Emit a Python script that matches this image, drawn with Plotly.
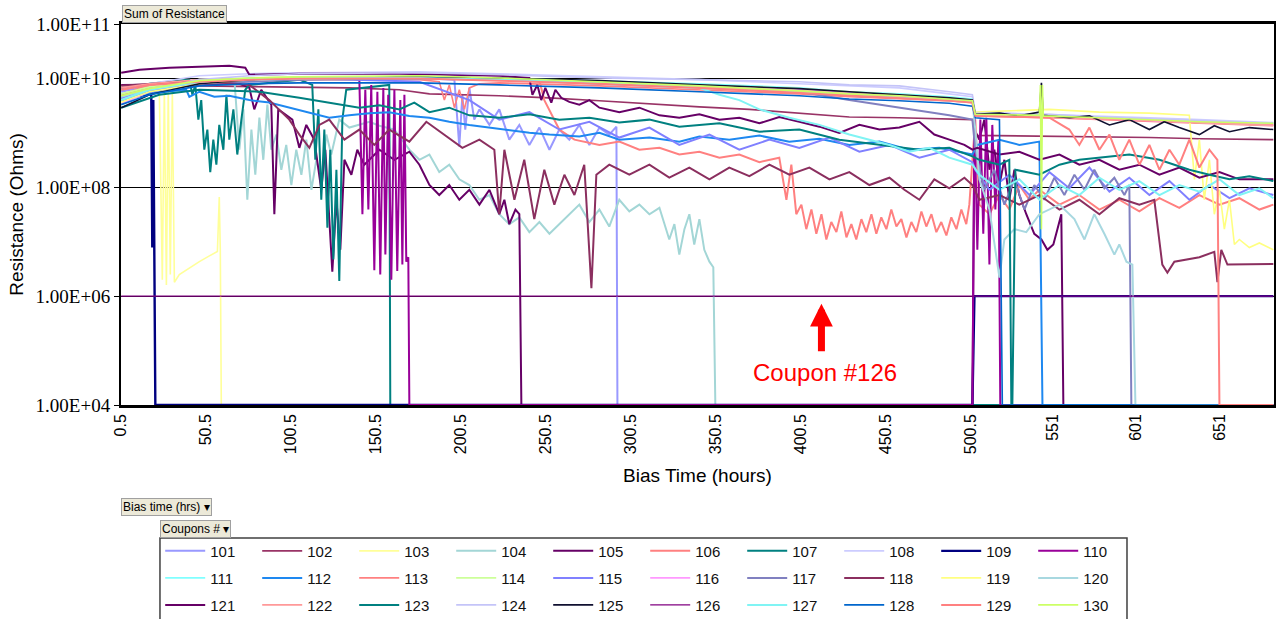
import plotly.graph_objects as go

# ---------------------------------------------------------------- data
COUPONS = [101, 102, 103, 104, 105, 106, 107, 108, 109, 110,
           111, 112, 113, 114, 115, 116, 117, 118, 119, 120,
           121, 122, 123, 124, 125, 126, 127, 128, 129, 130]

X_TICK_POS = [0.5, 50.5, 100.5, 150.5, 200.5, 250.5, 300.5, 350.5, 400.5, 450.5, 500.5, 548.2, 597.6, 646.5]
X_TICK_TEXT = ['0.5', '50.5', '100.5', '150.5', '200.5', '250.5', '300.5', '350.5', '400.5', '450.5',
               '500.5', '551', '601', '651']
Y_TICK_VALS = [1e4, 1e6, 1e8, 1e10, 1e11]
Y_TICK_TEXT = ['1.00E+04', '1.00E+06', '1.00E+08', '1.00E+10', '1.00E+11']

# bias-time positions shared by the coupons that stay in the top band
CLUSTER_X = [0.5, 17.1, 46.5, 75.9, 105.3, 175.9, 222.9, 281.8, 340.6, 399.4, 428.8, 458.2, 487.6,
             501.2, 502.9, 546.5, 575.9, 605.3, 634.7, 678.2]

X_101 = [0.5, 17.1, 46.5, 105.3, 175.9, 196.5, 199.4, 201.2, 202.9, 205.3, 208.2, 211.2, 217.1, 222.9,
         228.8, 234.7, 240.6, 246.5, 252.4, 258.2, 264.1, 270.0, 275.9, 281.8, 287.6, 291.8, 292.4, 678.2]
R_101 = [5.7e9, 7.3e9, 9.5e9, 1.02e10, 1.02e10, 9.5e9, 5.6e8, 5.0e9, 1.15e9, 6.7e9, 1.75e9, 2.7e9, 1.4e9,
         2.7e9, 7.5e8, 1.4e9, 6.0e8, 1.25e9, 4.9e8, 1.15e9, 7.5e8, 1.4e9, 6.0e8, 1.25e9, 9.3e8, 1.3e9, 1e4, 1e4]

X_102 = [0.5, 17.1, 46.5, 105.3, 134.7, 164.1, 181.8, 222.9, 252.4, 281.8, 311.2, 340.6, 370.0, 399.4,
         428.8, 458.2, 487.6, 501.2, 502.9, 546.5, 575.9, 605.3, 634.7, 678.2]
R_102 = [6.7e9, 7.3e9, 7.3e9, 7.0e9, 6.7e9, 6.2e9, 5.2e9, 4.8e9, 4.4e9, 3.9e9, 3.4e9, 3.0e9, 2.7e9, 2.3e9,
         1.95e9, 1.9e9, 1.8e9, 1.75e9, 9.0e8, 8.6e8, 8.6e8, 8.2e8, 7.8e8, 7.5e8]

X_103 = [0.5, 11.2, 22.9, 24.7, 25.9, 27.1, 28.2, 29.4, 30.6, 31.8, 34.7, 40.6, 46.5, 52.4, 57.1, 58.2,
         58.8, 59.4, 678.2]
R_103 = [3.4e9, 5.7e9, 7.3e9, 2.0e6, 6.7e9, 1.6e6, 6.2e9, 2.5e6, 5.7e9, 1.8e6, 2.5e6, 3.3e6, 4.3e6, 5.5e6,
         6.6e6, 6.6e7, 7.1e6, 1e4, 1e4]

X_104 = [0.5, 17.1, 46.5, 67.1, 70.0, 72.4, 74.7, 77.1, 79.4, 81.8, 84.1, 86.5, 88.8, 91.8, 94.7, 97.6,
         100.6, 103.5, 106.5, 109.4, 112.4, 115.3, 118.2, 121.2, 124.1, 128.8, 134.7, 140.6, 146.5, 152.4,
         161.2, 170.0, 175.9, 181.8, 187.6, 193.5, 199.4, 205.3, 211.2, 217.1, 222.9, 228.8, 234.7, 240.6,
         246.5, 252.4, 258.2, 264.1, 270.0, 275.9, 281.8, 287.6, 293.5, 299.4, 305.3, 311.2, 317.1, 322.9,
         325.9, 328.8, 331.8, 334.7, 337.6, 340.6, 343.5, 346.5, 348.8, 350.0, 678.2]
R_104 = [5.2e9, 6.7e9, 8.7e9, 9.5e9, 4.9e8, 2.7e9, 5.9e7, 1.15e9, 1.7e8, 1.9e9, 3.2e8, 3.3e9, 4.9e8, 9.3e8,
         2.1e8, 6.0e8, 1.1e8, 4.9e8, 1.7e8, 7.5e8, 9.0e7, 3.2e8, 1.4e8, 9.3e8, 4.0e8, 1.75e9, 1.25e9, 1.4e9,
         1.6e9, 1.35e9, 1.15e9, 4.9e8, 3.2e8, 4.0e8, 1.9e8, 2.6e8, 1.4e8, 1.1e8, 5.9e7, 7.2e7, 3.2e7, 2.1e7,
         2.8e7, 1.5e7, 2.3e7, 1.4e7, 2.1e7, 3.2e7, 4.8e7, 2.3e7, 3.9e7, 1.9e7, 5.9e7, 3.6e7, 4.8e7, 3.2e7,
         4.2e7, 1.1e7, 2.1e7, 5.8e6, 1.7e7, 3.2e7, 8.9e6, 2.6e7, 7.1e6, 4.3e6, 3.4e6, 1e4, 1e4]

X_105 = [0.5, 70.0, 75.9, 78.8, 82.9, 88.8, 90.6, 92.9, 101.2, 105.3, 109.4, 114.1, 118.2, 120.6, 124.7,
         127.1, 129.4, 131.8, 135.9, 139.4, 143.5, 152.4, 161.2, 170.0, 175.9, 181.8, 187.6, 193.5, 199.4,
         205.3, 211.2, 217.1, 222.9, 225.9, 228.8, 232.4, 234.7, 235.9, 501.2, 502.4, 505.3, 508.2, 511.2,
         514.1, 517.1, 520.0, 522.9, 525.9, 528.8, 532.9, 537.6, 541.8, 545.3, 548.8, 551.2, 553.5, 554.7, 678.2]
R_105 = [7.6e9, 8.0e9, 6.7e9, 2.7e9, 6.2e9, 3.3e9, 3.2e7, 2.7e9, 1.75e9, 5.3e8, 1.4e9, 7.5e8, 9.0e7, 4.9e8,
         2.8e6, 5.9e7, 7.1e6, 3.2e8, 1.7e8, 4.9e8, 2.6e8, 4.9e8, 3.2e8, 4.5e8, 2.6e8, 1.1e8, 7.2e7, 1.1e8,
         5.9e7, 9.0e7, 4.8e7, 9.0e7, 3.2e7, 5.9e7, 2.1e7, 3.9e7, 3.2e7, 1e4, 1e4, 1.15e9, 7.5e8, 1.75e9, 2.1e8,
         4.9e8, 1.1e8, 3.2e8, 5.9e7, 2.1e8, 7.2e7, 3.2e7, 1.4e7, 1.1e7, 7.1e6, 8.9e6, 1.7e7, 3.2e7, 1e4, 1e4]

X_106 = [0.5, 17.1, 46.5, 105.3, 175.9, 222.9, 246.5, 249.4, 255.3, 258.2, 267.1, 281.8, 293.5, 305.3,
         317.1, 328.8, 340.6, 352.4, 364.1, 375.9, 387.6, 391.8, 394.7, 397.6, 400.6, 403.5, 406.5, 409.4,
         412.4, 415.3, 418.2, 421.2, 424.1, 427.1, 430.0, 432.9, 435.9, 438.8, 441.8, 444.7, 447.6, 450.6,
         453.5, 456.5, 459.4, 462.4, 465.3, 468.2, 471.2, 474.1, 477.1, 480.0, 482.9, 485.9, 488.8, 491.8,
         494.7, 497.6, 499.4, 501.2, 502.9, 505.3, 511.2, 517.1, 522.9, 528.8, 534.7, 540.6, 552.4, 564.1,
         575.9, 587.6, 599.4, 611.2, 622.9, 634.7, 646.5, 658.2, 670.0, 678.2]
R_106 = [4.8e9, 6.7e9, 8.7e9, 1.0e10, 1.0e10, 9.5e9, 9.1e9, 4.0e9, 1.75e9, 1.15e9, 7.5e8, 6.0e8, 6.9e8,
         4.9e8, 5.3e8, 4.0e8, 4.5e8, 3.5e8, 4.0e8, 2.9e8, 3.5e8, 5.9e7, 2.6e8, 3.2e7, 4.8e7, 1.7e7, 3.9e7,
         1.4e7, 3.2e7, 1.1e7, 2.3e7, 1.5e7, 3.6e7, 1.2e7, 2.1e7, 1.1e7, 2.6e7, 1.5e7, 3.2e7, 1.4e7, 2.8e7,
         1.7e7, 3.9e7, 1.9e7, 2.6e7, 1.2e7, 2.3e7, 1.5e7, 3.6e7, 1.9e7, 3.2e7, 1.5e7, 2.3e7, 1.3e7, 2.8e7,
         1.7e7, 3.9e7, 2.1e7, 4.8e7, 3.2e8, 1.75e9, 4.8e7, 3.2e7, 7.2e7, 3.9e7, 1.1e8, 5.9e7, 9.0e7, 4.8e7,
         7.2e7, 3.9e7, 5.9e7, 3.6e7, 6.3e7, 4.2e7, 7.2e7, 4.8e7, 6.3e7, 3.9e7, 4.8e7]

X_107 = [0.5, 17.1, 40.6, 42.4, 44.1, 45.9, 47.6, 49.4, 51.2, 52.9, 54.7, 56.5, 58.2, 60.6, 62.4, 64.1,
         66.5, 68.8, 71.2, 73.5, 75.9, 105.3, 112.9, 114.7, 116.5, 118.2, 120.0, 121.8, 123.5, 125.3, 127.1,
         128.8, 130.6, 132.9, 158.2, 158.8, 678.2]
R_107 = [6.2e9, 8.0e9, 9.5e9, 5.0e9, 7.6e9, 1.75e9, 4.0e9, 4.9e8, 1.15e9, 1.9e8, 7.5e8, 2.6e8, 1.4e9,
         4.9e8, 5.0e9, 7.5e8, 2.7e9, 4.0e8, 1.75e9, 6.2e9, 7.6e9, 9.5e9, 7.6e9, 3.2e8, 2.7e9, 5.9e7, 1.15e9,
         1.8e7, 4.9e8, 4.7e6, 2.1e8, 1.9e6, 1.75e9, 6.2e9, 7.6e9, 1e4, 1e4]

R_108 = [6.2e9, 8.0e9, 1.12e10, 1.22e10, 1.27e10, 1.32e10, 1.22e10, 1.07e10, 9.5e9, 8.0e9, 7.3e9, 6.7e9,
         5.2e9, 4.6e9, 2.4e9, 2.2e9, 2.05e9, 1.9e9, 1.75e9, 1.55e9]

X_109 = [0.5, 11.2, 18.2, 18.8, 19.4, 20.0, 20.6, 501.2, 502.4, 678.2]
R_109 = [4.0e9, 4.8e9, 5.2e9, 7.8e6, 4.0e9, 8.9e6, 1e4, 1e4, 1e6, 1e6]

X_110 = [0.5, 17.1, 46.5, 75.9, 105.3, 134.7, 140.6, 142.4, 144.1, 145.9, 147.6, 149.4, 151.2, 152.9,
         154.7, 155.9, 157.6, 159.4, 161.2, 162.9, 164.7, 165.9, 167.1, 168.2, 169.4, 170.0, 501.2, 502.4,
         504.1, 505.9, 507.6, 509.4, 511.2, 512.9, 514.7, 516.5, 517.6, 678.2]
R_110 = [4.4e9, 6.2e9, 8.7e9, 9.5e9, 1.0e10, 1.0e10, 9.5e9, 3.2e7, 6.2e9, 3.9e7, 7.6e9, 3.0e6, 5.7e9,
         2.5e6, 6.7e9, 5.8e6, 5.0e9, 2.0e6, 6.2e9, 2.9e6, 4.0e9, 3.8e6, 5.0e9, 4.3e6, 5.2e6, 1e4, 1e4, 2.4e9,
         7.1e6, 1.75e9, 1.4e7, 1.9e9, 3.8e6, 1.4e9, 3.9e7, 7.5e8, 1e4, 1e4]

R_111 = [4.4e9, 6.2e9, 8.7e9, 1.0e10, 1.02e10, 1.07e10, 1.02e10, 9.1e9, 8.0e9, 6.7e9, 5.7e9, 5.2e9, 4.6e9,
         4.2e9, 2.3e9, 2.1e9, 1.9e9, 1.75e9, 1.6e9, 1.5e9]

X_112 = [0.5, 17.1, 38.8, 40.6, 46.5, 55.3, 64.1, 75.9, 87.6, 99.4, 111.2, 122.9, 134.7, 146.5, 158.2,
         170.0, 181.8, 193.5, 205.3, 217.1, 228.8, 240.6, 252.4, 270.0, 281.8, 293.5, 311.2, 328.8, 340.6,
         358.2, 375.9, 393.5, 411.2, 428.8, 446.5, 464.1, 481.8, 501.2, 504.1, 517.1, 528.8, 540.6, 542.4, 678.2]
R_112 = [4.0e9, 5.4e9, 6.2e9, 4.6e9, 5.7e9, 4.6e9, 4.8e9, 4.0e9, 3.6e9, 2.9e9, 2.4e9, 1.9e9, 2.1e9, 2.3e9,
         2.4e9, 2.05e9, 1.9e9, 1.6e9, 1.4e9, 1.25e9, 1.15e9, 1.0e9, 9.3e8, 8.6e8, 1.0e9, 7.5e8, 8.2e8, 6.9e8,
         8.6e8, 7.5e8, 8.9e8, 6.9e8, 7.8e8, 6.0e8, 6.9e8, 4.9e8, 5.3e8, 4.0e8, 6.0e8, 7.5e8, 6.0e8, 6.9e8,
         1e4, 1e4]

X_113 = [0.5, 11.2, 22.9, 46.5, 75.9, 105.3, 175.9, 187.6, 190.6, 193.5, 196.5, 199.4, 202.4, 205.3, 211.2,
         222.9, 281.8, 340.6, 399.4, 428.8, 458.2, 487.6, 501.2, 502.9, 546.5, 575.9, 605.3, 634.7, 678.2]
R_113 = [4.8e9, 6.7e9, 8.0e9, 8.7e9, 9.1e9, 9.5e9, 9.5e9, 8.7e9, 4.0e9, 7.6e9, 2.9e9, 6.2e9, 2.7e9, 6.7e9,
         8.0e9, 8.3e9, 7.3e9, 6.2e9, 5.2e9, 4.6e9, 4.2e9, 3.9e9, 3.6e9, 2.05e9, 1.9e9, 1.75e9, 1.6e9, 1.5e9,
         1.35e9]

R_114 = [5.2e9, 7.0e9, 9.5e9, 1.02e10, 1.07e10, 1.07e10, 1.0e10, 8.7e9, 7.6e9, 6.5e9, 5.7e9, 5.0e9, 4.4e9,
         4.0e9, 2.2e9, 2.05e9, 1.9e9, 1.7e9, 1.55e9, 1.4e9]

X_115 = [0.5, 46.5, 105.3, 175.9, 205.3, 222.9, 240.6, 258.2, 275.9, 293.5, 311.2, 328.8, 346.5, 364.1,
         381.8, 399.4, 417.1, 434.7, 452.4, 470.0, 487.6, 501.2, 502.9, 511.2, 522.9, 534.7, 546.5, 558.2,
         570.0, 581.8, 593.5, 605.3, 617.1, 628.8, 640.6, 652.4, 664.1, 678.2]
R_115 = [4.4e9, 8.7e9, 1.02e10, 8.7e9, 4.0e9, 1.75e9, 2.4e9, 1.15e9, 1.6e9, 8.2e8, 1.25e9, 6.0e8, 9.3e8,
         4.9e8, 7.5e8, 5.3e8, 8.2e8, 4.5e8, 6.0e8, 3.5e8, 4.9e8, 2.9e8, 2.1e8, 9.0e7, 1.7e8, 7.2e7, 1.9e8,
         9.6e7, 2.3e8, 8.3e7, 1.5e8, 7.2e7, 1.3e8, 5.9e7, 1.1e8, 6.3e7, 9.6e7, 7.2e7]

R_116 = [3.4e9, 5.7e9, 8.3e9, 9.5e9, 1.0e10, 1.02e10, 9.5e9, 8.3e9, 7.3e9, 6.2e9, 5.4e9, 4.8e9, 4.2e9,
         3.9e9, 2.1e9, 1.95e9, 1.8e9, 1.7e9, 1.55e9, 1.4e9]

X_117 = [0.5, 17.1, 46.5, 105.3, 175.9, 222.9, 281.8, 340.6, 399.4, 428.8, 458.2, 487.6, 501.2, 502.9,
         508.2, 514.1, 520.0, 525.9, 531.8, 537.6, 543.5, 549.4, 555.3, 561.2, 567.1, 572.9, 578.8, 584.7,
         590.6, 593.5, 594.7, 678.2]
R_117 = [4.0e9, 5.7e9, 8.0e9, 9.5e9, 1.0e10, 9.5e9, 8.0e9, 6.7e9, 5.7e9, 4.0e9, 2.9e9, 2.1e9, 1.75e9,
         4.9e8, 9.0e7, 2.1e8, 4.8e7, 1.4e8, 3.9e7, 1.1e8, 5.9e7, 1.5e8, 7.2e7, 1.7e8, 9.0e7, 2.1e8, 9.6e7,
         1.5e8, 7.2e7, 1.1e8, 1e4, 1e4]

X_118 = [0.5, 46.5, 75.9, 87.6, 99.4, 105.3, 111.2, 117.1, 122.9, 131.8, 140.6, 149.4, 158.2, 170.0, 180.0,
         190.6, 201.2, 211.2, 220.0, 222.9, 225.9, 231.8, 237.6, 243.5, 249.4, 255.3, 261.2, 267.1, 272.9,
         277.1, 280.0, 287.6, 299.4, 311.2, 322.9, 334.7, 346.5, 358.2, 370.0, 381.8, 393.5, 405.3, 417.1,
         428.8, 440.6, 452.4, 461.2, 470.0, 478.8, 487.6, 496.5, 501.2, 505.3, 517.1, 528.8, 540.6, 552.4,
         564.1, 575.9, 587.6, 599.4, 608.2, 612.9, 615.9, 620.0, 634.7, 643.5, 645.3, 647.6, 651.2, 678.2]
R_118 = [7.3e9, 9.1e9, 7.6e9, 4.0e9, 1.75e9, 9.3e8, 5.3e8, 1.4e9, 1.75e9, 7.5e8, 1.15e9, 6.0e8, 1.15e9,
         6.9e8, 1.6e9, 9.3e8, 5.3e8, 7.5e8, 4.9e8, 3.2e7, 4.9e8, 5.9e7, 3.2e8, 2.6e7, 2.1e8, 4.8e7, 1.7e8,
         7.2e7, 2.6e8, 1.4e6, 1.7e8, 2.6e8, 1.7e8, 2.6e8, 1.5e8, 2.3e8, 1.4e8, 2.3e8, 1.6e8, 2.6e8, 1.7e8,
         2.3e8, 1.4e8, 1.9e8, 1.1e8, 1.5e8, 9.0e7, 5.9e7, 1.4e8, 9.6e7, 1.5e8, 1.1e8, 5.9e7, 7.2e7, 4.8e7,
         7.2e7, 3.9e7, 5.9e7, 3.2e7, 6.3e7, 4.8e7, 5.9e7, 3.8e6, 2.7e6, 4.3e6, 5.2e6, 6.5e6, 1.8e6, 7.1e6,
         3.8e6, 3.9e6]

X_119 = [0.5, 17.1, 46.5, 75.9, 105.3, 175.9, 222.9, 281.8, 340.6, 399.4, 428.8, 458.2, 487.6, 501.2,
         502.9, 546.5, 575.9, 605.3, 628.8, 631.8, 634.7, 637.6, 640.6, 643.5, 646.5, 649.4, 652.4, 655.3,
         658.2, 664.1, 670.0, 678.2]
R_119 = [3.7e9, 5.7e9, 8.0e9, 9.5e9, 1.0e10, 1.02e10, 9.5e9, 8.3e9, 7.0e9, 5.9e9, 5.2e9, 4.6e9, 4.0e9,
         3.7e9, 2.4e9, 2.7e9, 2.4e9, 2.3e9, 2.1e9, 1.4e8, 7.5e8, 5.9e7, 3.2e8, 3.2e7, 9.0e7, 1.7e7, 5.9e7,
         8.9e6, 1.1e7, 7.8e6, 9.5e6, 7.1e6]

X_120 = [0.5, 17.1, 46.5, 105.3, 175.9, 222.9, 281.8, 340.6, 399.4, 458.2, 501.2, 502.9, 505.3, 511.2,
         517.1, 520.0, 525.9, 532.9, 540.6, 552.4, 561.2, 567.1, 572.9, 578.8, 584.7, 587.6, 591.8, 595.3,
         597.1, 678.2]
R_120 = [4.6e9, 6.5e9, 8.7e9, 1.0e10, 1.02e10, 9.5e9, 8.3e9, 7.0e9, 5.7e9, 4.4e9, 3.7e9, 1.15e9, 1.4e8,
         3.9e7, 2.2e6, 1.1e7, 1.7e7, 1.5e7, 3.2e7, 4.8e7, 2.6e7, 1.1e7, 3.2e7, 1.4e7, 5.8e6, 8.9e6, 4.3e6,
         3.8e6, 1e4, 1e4]

X_121 = [0.5, 11.2, 28.8, 46.5, 64.1, 73.5, 75.9, 105.3, 164.1, 222.9, 240.6, 242.4, 245.3, 247.6, 250.0,
         253.5, 255.9, 259.4, 264.1, 270.0, 275.9, 281.8, 293.5, 305.3, 317.1, 328.8, 340.6, 352.4, 364.1,
         375.9, 387.6, 399.4, 411.2, 422.9, 434.7, 446.5, 458.2, 470.0, 478.8, 487.6, 496.5, 501.2, 504.1,
         517.1, 528.8, 540.6, 552.4, 564.1, 575.9, 587.6, 599.4, 611.2, 622.9, 634.7, 646.5, 658.2, 678.2]
R_121 = [1.27e10, 1.45e10, 1.57e10, 1.64e10, 1.71e10, 1.57e10, 1.17e10, 1.22e10, 1.22e10, 1.12e10, 1.02e10,
         5.0e9, 7.6e9, 4.0e9, 6.7e9, 3.6e9, 6.2e9, 4.4e9, 3.7e9, 3.3e9, 4.0e9, 2.9e9, 2.4e9, 2.9e9, 2.1e9,
         1.9e9, 2.2e9, 1.75e9, 1.9e9, 1.5e9, 1.95e9, 1.6e9, 1.3e9, 1.0e9, 1.4e9, 1.15e9, 1.25e9, 1.6e9, 9.3e8,
         7.5e8, 6.0e8, 4.9e8, 5.3e8, 4.0e8, 4.5e8, 3.2e8, 4.0e8, 2.6e8, 3.2e8, 2.1e8, 2.6e8, 1.7e8, 2.3e8,
         1.5e8, 1.9e8, 1.4e8, 1.4e8]

R_122 = [6.7e9, 8.0e9, 9.5e9, 1.0e10, 1.02e10, 1.02e10, 9.5e9, 8.3e9, 7.0e9, 5.9e9, 5.2e9, 4.8e9, 4.2e9,
         3.9e9, 2.1e9, 1.95e9, 1.8e9, 1.7e9, 1.55e9, 1.4e9]

X_123 = [0.5, 22.9, 46.5, 81.8, 105.3, 122.9, 140.6, 152.4, 164.1, 172.9, 181.8, 193.5, 205.3, 222.9, 240.6,
         258.2, 275.9, 293.5, 311.2, 328.8, 352.4, 375.9, 399.4, 422.9, 446.5, 470.0, 487.6, 501.2, 505.3,
         517.1, 522.9, 524.1, 524.7, 526.5, 540.6, 552.4, 564.1, 575.9, 593.5, 611.2, 628.8, 640.6, 652.4,
         664.1, 678.2]
R_123 = [2.9e9, 5.0e9, 6.2e9, 5.7e9, 4.4e9, 3.6e9, 2.9e9, 3.2e9, 2.7e9, 3.6e9, 2.4e9, 2.9e9, 2.1e9, 1.9e9,
         2.2e9, 1.75e9, 1.9e9, 1.55e9, 1.75e9, 1.3e9, 1.5e9, 1.05e9, 1.15e9, 7.5e8, 6.0e8, 4.9e8, 5.3e8,
         3.7e8, 3.2e8, 2.6e8, 3.2e8, 1e4, 1e4, 2.1e8, 1.7e8, 2.6e8, 3.2e8, 3.5e8, 4.0e8, 3.2e8, 2.1e8, 1.7e8,
         1.4e8, 1.6e8, 1.3e8]

R_124 = [4.0e9, 6.2e9, 9.5e9, 1.12e10, 1.22e10, 1.27e10, 1.17e10, 1.02e10, 9.5e9, 8.7e9, 7.6e9, 7.3e9,
         5.7e9, 5.0e9, 2.3e9, 2.2e9, 1.95e9, 1.8e9, 1.7e9, 1.5e9]

X_125 = [0.5, 17.1, 46.5, 75.9, 105.3, 175.9, 222.9, 281.8, 340.6, 399.4, 428.8, 458.2, 487.6, 501.2,
         502.9, 517.1, 528.8, 540.6, 541.8, 542.9, 558.2, 570.0, 581.8, 593.5, 605.3, 614.1, 622.9, 634.7,
         643.5, 652.4, 664.1, 678.2]
R_125 = [2.9e9, 5.0e9, 8.0e9, 9.5e9, 1.02e10, 1.07e10, 1.02e10, 9.1e9, 7.6e9, 6.5e9, 5.7e9, 5.0e9, 4.4e9,
         4.0e9, 2.2e9, 2.3e9, 2.05e9, 2.4e9, 8.3e9, 2.1e9, 1.9e9, 2.05e9, 1.4e9, 1.75e9, 1.15e9, 1.6e9,
         1.25e9, 9.3e8, 1.35e9, 1.05e9, 1.25e9, 1.15e9]

X_126 = [0.5, 678.2]
R_126 = [1e6, 1e6]

X_127 = [0.5, 17.1, 46.5, 75.9, 105.3, 175.9, 222.9, 281.8, 340.6, 352.4, 364.1, 375.9, 393.5, 411.2,
         428.8, 440.6, 452.4, 464.1, 475.9, 487.6, 501.2, 505.3, 517.1, 528.8, 540.6, 552.4, 564.1, 575.9,
         587.6, 599.4, 611.2, 622.9, 634.7, 646.5, 658.2, 670.0, 678.2]
R_127 = [4.0e9, 6.2e9, 8.7e9, 1.0e10, 1.02e10, 1.02e10, 9.5e9, 8.3e9, 6.7e9, 5.0e9, 4.0e9, 2.7e9, 1.9e9,
         1.4e9, 9.3e8, 7.5e8, 6.0e8, 4.5e8, 5.3e8, 3.5e8, 2.6e8, 1.7e8, 9.0e7, 1.4e8, 5.9e7, 1.1e8, 7.2e7,
         1.5e8, 9.0e7, 1.3e8, 7.2e7, 1.1e8, 8.3e7, 1.4e8, 7.2e7, 9.6e7, 6.3e7]

X_128 = [0.5, 17.1, 46.5, 75.9, 105.3, 175.9, 222.9, 281.8, 340.6, 399.4, 428.8, 458.2, 487.6, 501.2,
         502.9, 517.1, 518.8, 678.2]
R_128 = [3.3e9, 5.0e9, 7.3e9, 8.0e9, 8.3e9, 8.3e9, 7.6e9, 6.7e9, 5.7e9, 4.8e9, 4.2e9, 3.9e9, 3.5e9, 3.1e9,
         1.9e9, 1.75e9, 1e4, 1e4]

X_129 = [0.5, 17.1, 46.5, 75.9, 105.3, 175.9, 222.9, 281.8, 340.6, 399.4, 428.8, 458.2, 487.6, 501.2,
         502.9, 546.5, 558.2, 564.1, 570.0, 575.9, 581.8, 587.6, 593.5, 599.4, 605.3, 611.2, 617.1, 622.9,
         628.8, 634.7, 640.6, 645.3, 646.5, 678.2]
R_129 = [6.2e9, 7.6e9, 8.7e9, 9.5e9, 1.0e10, 1.0e10, 9.1e9, 8.0e9, 6.7e9, 5.4e9, 4.8e9, 4.4e9, 3.9e9,
         3.6e9, 2.05e9, 1.9e9, 1.15e9, 6.0e8, 1.25e9, 4.9e8, 9.3e8, 3.2e8, 7.5e8, 2.6e8, 6.0e8, 2.1e8, 4.9e8,
         2.6e8, 7.5e8, 2.3e8, 4.9e8, 3.2e8, 1e4, 1e4]

X_130 = [0.5, 17.1, 46.5, 75.9, 105.3, 175.9, 222.9, 281.8, 340.6, 399.4, 428.8, 458.2, 487.6, 501.2,
         502.9, 540.6, 541.2, 541.8, 542.4, 542.9, 575.9, 605.3, 634.7, 678.2]
R_130 = [4.8e9, 6.5e9, 9.1e9, 1.02e10, 1.07e10, 1.12e10, 1.02e10, 8.7e9, 7.3e9, 5.9e9, 5.2e9, 4.8e9, 4.2e9,
         3.9e9, 2.2e9, 2.1e9, 7.6e9, 1.7e7, 7.6e9, 2.05e9, 1.9e9, 1.75e9, 1.6e9, 1.5e9]

SERIES = {
    101: (X_101, R_101), 102: (X_102, R_102), 103: (X_103, R_103), 104: (X_104, R_104),
    105: (X_105, R_105), 106: (X_106, R_106), 107: (X_107, R_107), 108: (CLUSTER_X, R_108),
    109: (X_109, R_109), 110: (X_110, R_110), 111: (CLUSTER_X, R_111), 112: (X_112, R_112),
    113: (X_113, R_113), 114: (CLUSTER_X, R_114), 115: (X_115, R_115), 116: (CLUSTER_X, R_116),
    117: (X_117, R_117), 118: (X_118, R_118), 119: (X_119, R_119), 120: (X_120, R_120),
    121: (X_121, R_121), 122: (CLUSTER_X, R_122), 123: (X_123, R_123), 124: (CLUSTER_X, R_124),
    125: (X_125, R_125), 126: (X_126, R_126), 127: (X_127, R_127), 128: (X_128, R_128),
    129: (X_129, R_129), 130: (X_130, R_130),
}

# ---------------------------------------------------------------- style
COLORS = {
    101: '#9999FF', 102: '#993366', 103: '#FFFF99', 104: '#A3D6D6', 105: '#660066',
    106: '#FF8080', 107: '#008080', 108: '#CCCCFF', 109: '#000080', 110: '#990099',
    111: '#80FFFF', 112: '#1E88F0', 113: '#FF8080', 114: '#CCFF99', 115: '#8080FF',
    116: '#FF99FF', 117: '#8080C0', 118: '#8B2F5F', 119: '#FFFF80', 120: '#A8D8E0',
    121: '#660066', 122: '#FF9999', 123: '#008080', 124: '#C4C4F8', 125: '#101030',
    126: '#800080', 127: '#80F4F4', 128: '#0066CC', 129: '#FF8080', 130: '#CCFF66',
}
WIDTHS = {c: 1.6 for c in COUPONS}
for c in (101, 104, 105, 106, 107, 110, 112, 115, 117, 118, 120, 121, 123, 127, 129):
    WIDTHS[c] = 2.0
WIDTHS[109] = 2.4
WIDTHS[126] = 1.3

SANS = 'Liberation Sans, Arial, sans-serif'
SERIF = 'Liberation Serif, Times New Roman, serif'

fig = go.Figure()
for i, c in enumerate(COUPONS):
    xs, rs = SERIES[c]
    if len(xs) != len(rs):
        raise ValueError(f'length mismatch for {c}: {len(xs)} vs {len(rs)}')
    fig.add_trace(go.Scatter(
        x=xs, y=rs, mode='lines', name=str(c),
        line=dict(color=COLORS[c], width=WIDTHS[c]),
        legend=['legend', 'legend2', 'legend3'][i // 10],
    ))

legend_common = dict(orientation='h', xanchor='left', yanchor='middle', x=0.034,
                     font=dict(family=SANS, size=15, color='#111'),
                     bgcolor='rgba(0,0,0,0)', borderwidth=0, itemwidth=40,
                     entrywidth=42, entrywidthmode='pixels', traceorder='normal')

fig.update_layout(
    width=1279, height=619,
    margin=dict(l=121, r=5, t=24, b=214, pad=0, autoexpand=False),
    paper_bgcolor='white', plot_bgcolor='white',
    font=dict(family=SANS, color='black'),
    xaxis=dict(
        range=[0.4, 678.6], tickmode='array', tickvals=X_TICK_POS, ticktext=X_TICK_TEXT,
        tickangle=-90, tickfont=dict(family=SANS, size=16, color='black'),
        ticks='', showgrid=False, zeroline=False,
        showline=True, linecolor='black', linewidth=2.5, mirror=True, layer='below traces',
        title=dict(text='Bias Time (hours)', font=dict(family=SANS, size=19, color='black'), standoff=16),
    ),
    yaxis=dict(
        type='log', range=[4, 11], tickmode='array', tickvals=Y_TICK_VALS, ticktext=Y_TICK_TEXT,
        tickfont=dict(family=SERIF, size=19, color='black'),
        ticks='outside', ticklen=5, tickcolor='black',
        showgrid=True, gridcolor='black', gridwidth=1.2, zeroline=False,
        showline=True, linecolor='black', linewidth=2, mirror=True, layer='below traces',
        title=dict(text='Resistance (Ohms)', font=dict(family=SANS, size=19, color='black'), standoff=7),
    ),
    legend=dict(legend_common, y=-0.3835),
    legend2=dict(legend_common, y=-0.4544),
    legend3=dict(legend_common, y=-0.5253),
    showlegend=True,
)

# legend frame
fig.add_shape(type='rect', xref='paper', yref='paper', x0=0.0338, x1=0.8725, y0=-0.3494, y1=-0.60,
              line=dict(color='#404040', width=1.5), fillcolor='rgba(0,0,0,0)', layer='below')

button = dict(xref='paper', yref='paper', showarrow=False, xanchor='left',
              font=dict(family=SANS, size=12, color='black'),
              bgcolor='#ECE9D8', bordercolor='#A0A0A0', borderwidth=1, borderpad=1)
fig.add_annotation(button, text='Sum of Resistance', x=0.001, y=1.003, yanchor='bottom')
fig.add_annotation(button, text='Bias time (hrs) \u25be', x=0.0, y=-0.2443, yanchor='top')
fig.add_annotation(button, text='Coupons # \u25be', x=0.0338, y=-0.302, yanchor='top')

# Coupon #126 callout
fig.add_annotation(x=414.7, y=4.59, xref='x', yref='y', text='Coupon #126', showarrow=False,
                   font=dict(family=SANS, size=24, color='#FF0000'))
fig.add_annotation(x=412.4, y=5.858, xref='x', yref='y', text='', showarrow=True,
                   ax=0, ay=49, arrowcolor='#FF0000', arrowwidth=7, arrowhead=2, arrowsize=0.65)

fig.write_html('out.html',
               config={'displayModeBar': False},
               post_script="document.body.style.margin='0';document.body.style.padding='0';"
                           "document.body.style.overflow='hidden';")
